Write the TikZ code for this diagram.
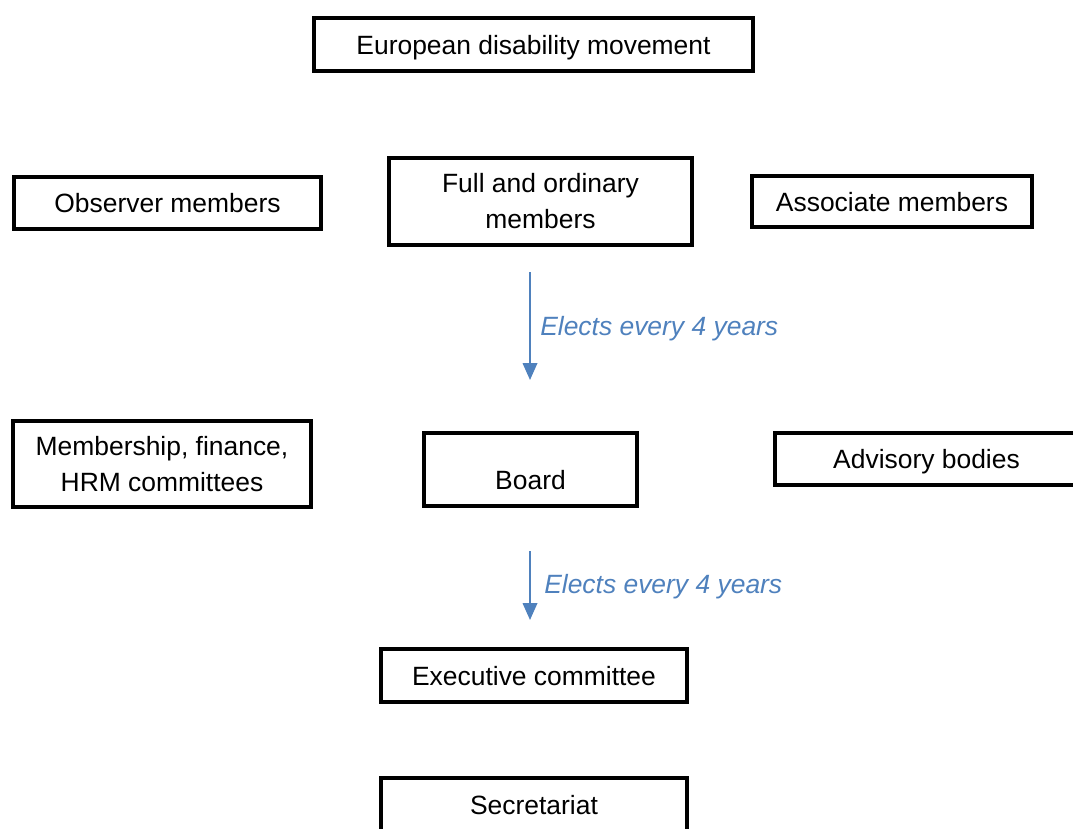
\documentclass[tikz,border=0pt]{standalone}
\usepackage{fontspec}
\setmainfont{Liberation Sans}
\usetikzlibrary{arrows.meta}
\definecolor{electblue}{RGB}{79,129,189}
\begin{document}
\begin{tikzpicture}[
    orgbox/.style={draw, line width=2.8pt, inner sep=0pt, align=center,
      font=\fontsize{18.8}{25.6}\selectfont},
    oneline/.style={text height=0.6cm, text depth=0.11cm},
    elects/.style={draw=electblue, line width=1.5pt,
      -{Triangle[length=0.42cm,width=0.36cm]}},
    electlabel/.style={anchor=west, text=electblue, inner sep=0pt,
      font=\fontsize{18.8}{22.5}\selectfont\itshape}]

  %% Page size
  \useasboundingbox (0,0) rectangle (26.825,-20.7);


  %% Top row
  \node[orgbox, oneline, minimum width=10.975cm, minimum height=1.325cm]
  (movement) at (13.3375,-1.1125) {European disability movement};


  %% Members
  \node[orgbox, oneline, minimum width=7.675cm, minimum height=1.3cm]
  (observer) at (4.1875,-5.075) {Observer members};
  \node[orgbox, minimum width=7.575cm, minimum height=2.175cm]
  (full) at (13.5125,-5.0375) {Full and ordinary\\members};
  \node[orgbox, oneline, minimum width=7.0cm, minimum height=1.275cm]
  (associate) at (22.3,-5.0375) {Associate members};


  %% First election
  \coordinate (elect1start) at (13.25,-6.8);
  \coordinate (elect1end) at (13.25,-9.5);
  \draw[elects] (elect1start) -- (elect1end);
  \node[electlabel] (elect1label) at (13.5,-8.225) {Elects every 4 years};


  %% Board row
  \node[orgbox, minimum width=7.45cm, minimum height=2.15cm]
  (committees) at (4.05,-11.6) {Membership, finance,\\HRM committees};
  \node[orgbox, minimum width=5.325cm, minimum height=1.825cm]
  (board) at (13.2625,-11.7375) {};
  \node[inner sep=0pt, font=\fontsize{18.8}{22.5}\selectfont]
  (boardlabel) at (13.2625,-12.0) {Board};
  \node[orgbox, oneline, minimum width=7.575cm, minimum height=1.3cm]
  (advisory) at (23.1625,-11.475) {Advisory bodies};


  %% Second election
  \coordinate (elect2start) at (13.25,-13.775);
  \coordinate (elect2end) at (13.25,-15.5);
  \draw[elects] (elect2start) -- (elect2end);
  \node[electlabel] (elect2label) at (13.6,-14.675) {Elects every 4 years};


  %% Bottom
  \node[orgbox, oneline, minimum width=7.65cm, minimum height=1.325cm]
  (executive) at (13.35,-16.8875) {Executive committee};
  \node[orgbox, oneline, minimum width=7.65cm, minimum height=1.325cm]
  (secretariat) at (13.35,-20.1125) {Secretariat};

\end{tikzpicture}
\end{document}
